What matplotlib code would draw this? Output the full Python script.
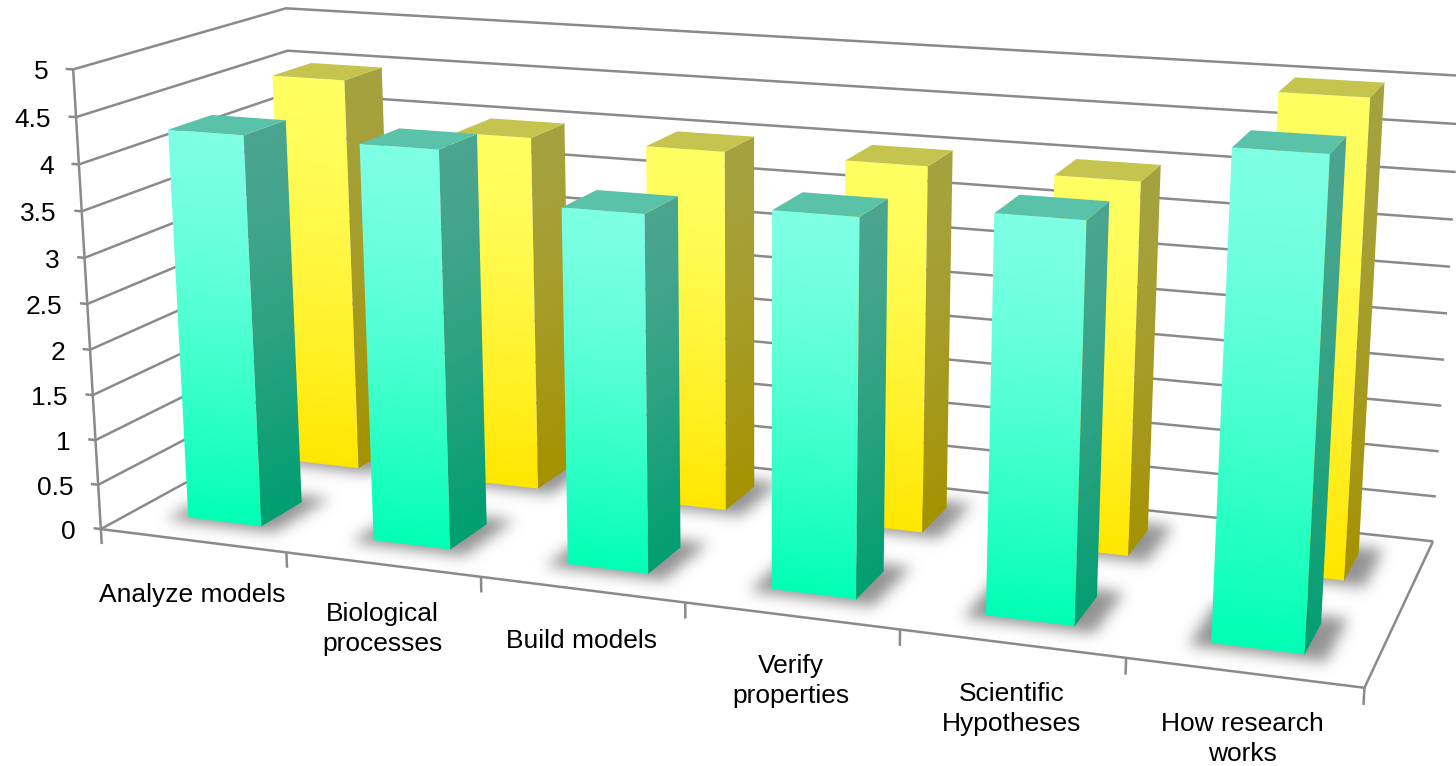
import numpy as np
import matplotlib
matplotlib.use("Agg")
import matplotlib.pyplot as plt

categories = ["Analyze models", "Biological\nprocesses", "Build models",
              "Verify\nproperties", "Scientific\nHypotheses", "How research\nworks"]
front_values = [4.29, 4.29, 3.79, 3.93, 4.07, 4.86]
back_values = [4.5, 4.0, 4.0, 4.0, 4.0, 5.0]
value_ticks = [0, 0.5, 1, 1.5, 2, 2.5, 3, 3.5, 4, 4.5, 5]
value_tick_labels = ["0", "0.5", "1", "1.5", "2", "2.5", "3", "3.5", "4", "4.5", "5"]

WIDTH, HEIGHT = 1456, 766
LINE = "#8A8A8A"

# where box corners (category, depth, value) land on the canvas, used to solve the camera
CAMERA_ANCHORS = [
    ((0, 0, 5), (72, 69)), ((0, 0, 4.5), (76.7, 117)), ((0, 0, 4), (80, 164)),
    ((0, 0, 1), (95, 440)), ((0, 0, 0.5), (98, 483)), ((0, 0, 0), (101, 528)),
    ((1, 0, 0), (287, 553)), ((2, 0, 0), (481, 579)), ((3, 0, 0), (685, 604)),
    ((4, 0, 0), (900, 630)), ((5, 0, 0), (1126, 659)), ((6, 0, 0), (1364, 686)),
    ((6, 1, 0), (1433, 541)), ((6, 1, 0.5), (1436, 496)), ((6, 1, 1), (1439, 451)),
    ((6, 1, 1.5), (1441, 406)), ((6, 1, 2), (1444, 359)), ((6, 1, 2.5), (1447, 313)),
    ((6, 1, 3), (1450, 267)), ((6, 1, 3.5), (1453, 220)), ((6, 1, 4), (1456, 172)),
    ((0, 1, 5), (286, 9)), ((0, 1, 4.5), (287, 51)),
]


def solve_camera(anchors):
    rows, rhs = [], []
    for (x, y, z), (u, v) in anchors:
        rows.append([x, y, z, 1, 0, 0, 0, 0, -u * x, -u * y, -u * z])
        rhs.append(u)
        rows.append([0, 0, 0, 0, x, y, z, 1, -v * x, -v * y, -v * z])
        rhs.append(v)
    coef = np.linalg.lstsq(np.array(rows, float), np.array(rhs, float), rcond=None)[0]
    return np.append(coef, 1).reshape(3, 4)


CAMERA = solve_camera(CAMERA_ANCHORS)


def project(x, y, z):
    h = CAMERA @ np.array([x, y, z, 1.0])
    return h[:2] / h[2]


def inside_distance(poly, xx, yy):
    # signed pixel distance to the edges of a convex polygon, positive inside
    area = sum(a[0] * b[1] - b[0] * a[1] for a, b in zip(poly, np.roll(poly, -1, axis=0)))
    sign = 1 if area > 0 else -1
    dist = np.full(xx.shape, np.inf)
    for a, b in zip(poly, np.roll(poly, -1, axis=0)):
        ex, ey = b - a
        dist = np.minimum(dist, sign * (ex * (yy - a[1]) - ey * (xx - a[0])) / np.hypot(ex, ey))
    return dist


def pixel_grid(poly, pad=0):
    x0, y0 = np.floor(poly.min(axis=0)).astype(int) - 1 - pad
    x1, y1 = np.ceil(poly.max(axis=0)).astype(int) + 1 + pad
    xx, yy = np.meshgrid(np.arange(x0, x1) + 0.5, np.arange(y0, y1) + 0.5)
    return xx, yy, (x0, x1, y1, y0)


def gaussian_blur(mask, sigma):
    radius = int(3 * sigma)
    kernel = np.exp(-0.5 * (np.arange(-radius, radius + 1) / sigma) ** 2)
    kernel /= kernel.sum()
    mask = np.apply_along_axis(np.convolve, 0, mask, kernel, mode="same")
    return np.apply_along_axis(np.convolve, 1, mask, kernel, mode="same")


def draw_face(ax, corners, top_color, bottom_color, zorder):
    # corners run top-left, top-right, bottom-right, bottom-left
    poly = np.array(corners)
    xx, yy, extent = pixel_grid(poly)
    tl, tr, br, bl = poly
    w = np.clip((xx - tl[0]) / max(tr[0] - tl[0], 1e-6), 0, 1)
    y_top = tl[1] + (tr[1] - tl[1]) * w
    y_bottom = bl[1] + (br[1] - bl[1]) * w
    t = np.clip((yy - y_top) / (y_bottom - y_top), 0, 1)[..., None] ** 1.4
    c0 = np.array(matplotlib.colors.to_rgb(top_color))
    c1 = np.array(matplotlib.colors.to_rgb(bottom_color))
    rgb = c0 * (1 - t) + c1 * t
    alpha = np.clip(inside_distance(poly, xx, yy) + 0.5, 0, 1)[..., None]
    ax.imshow(np.dstack([rgb, alpha]), extent=extent, aspect="auto",
              interpolation="nearest", zorder=zorder)


def draw_shadow(ax, x0, x1, y0, y1, zorder, sigma=7.0, peak=0.68):
    poly = np.array([project(x0 - 0.085, y0 - 0.03, 0), project(x1 + 0.1, y0 - 0.03, 0),
                     project(x1 + 0.1, y1 + 0.05, 0), project(x0 - 0.085, y1 + 0.05, 0)])
    xx, yy, extent = pixel_grid(poly, pad=int(3 * sigma) + 2)
    mask = np.clip(inside_distance(poly, xx, yy) + 0.5, 0, 1)
    rgba = np.zeros(xx.shape + (4,))
    rgba[..., :3] = 0.38
    rgba[..., 3] = peak * gaussian_blur(mask, sigma)
    ax.imshow(rgba, extent=extent, aspect="auto", interpolation="nearest", zorder=zorder)


def draw_bar(ax, x0, x1, y0, y1, value, palette, zorder):
    draw_shadow(ax, x0, x1, y0, y1, zorder)
    draw_face(ax, [project(x0, y0, value), project(x1, y0, value), project(x1, y0, 0), project(x0, y0, 0)],
              palette["front"][0], palette["front"][1], zorder + 0.1)
    draw_face(ax, [project(x1, y0, value), project(x1, y1, value), project(x1, y1, 0), project(x1, y0, 0)],
              palette["side"][0], palette["side"][1], zorder + 0.1)
    top = np.array([project(x0, y0, value), project(x1, y0, value), project(x1, y1, value), project(x0, y1, value)])
    ax.fill(top[:, 0], top[:, 1], color=palette["top"], lw=0, zorder=zorder + 0.2)


def polyline(ax, points, **kw):
    pts = np.array([project(*p) for p in points])
    ax.plot(pts[:, 0], pts[:, 1], color=LINE, lw=1.8, solid_capstyle="butt", solid_joinstyle="miter", **kw)


CYAN = {"front": ("#7DFFE3", "#00FFB4"), "side": ("#4BA590", "#009E70"), "top": "#5AC2A9"}
YELLOW = {"front": ("#FFFF62", "#FFE600"), "side": ("#A6A23F", "#A59200"), "top": "#C4C44F"}

plt.rcParams["font.family"] = ["Liberation Sans", "DejaVu Sans"]
fig = plt.figure(figsize=(WIDTH / 100, HEIGHT / 100), dpi=100)
ax = fig.add_axes([0, 0, 1, 1])

n = len(categories)
for tick, label in zip(value_ticks, value_tick_labels):
    polyline(ax, [(0, 0, tick), (0, 1, tick), (n, 1, tick)], zorder=1)
    polyline(ax, [(0, 0, tick), (-0.04, 0, tick)], zorder=1)
    px = project(0, 0, tick)
    ax.text(px[0] - 25, px[1] + 3, label, ha="right", va="center", fontsize=19, color="black")
polyline(ax, [(0, 0, 0), (0, 0, 5)], zorder=1.2)
polyline(ax, [(0, 0, 0), (n, 0, 0), (n, 1, 0)], zorder=1.2)
for i in range(n + 1):
    polyline(ax, [(i, 0, 0), (i, 0, -0.17)], zorder=1.2)

for i, value in enumerate(back_values):
    draw_bar(ax, i + 0.3, i + 0.7, 0.65, 0.85, value, YELLOW, 2 + i * 0.5)
for i, value in enumerate(front_values):
    draw_bar(ax, i + 0.3, i + 0.7, 0.15, 0.35, value, CYAN, 6 + i * 0.5)

label_centers = [(192, 595), (382, 629), (582, 641), (791, 681), (1012, 709), (1242, 739)]
for name, (cx, cy) in zip(categories, label_centers):
    ax.text(cx, cy, name, ha="center", va="center", fontsize=19, color="black", linespacing=1.33)

ax.set_xlim(0, WIDTH)
ax.set_ylim(HEIGHT, 0)
ax.axis("off")
fig.savefig("out.png", dpi=100)
